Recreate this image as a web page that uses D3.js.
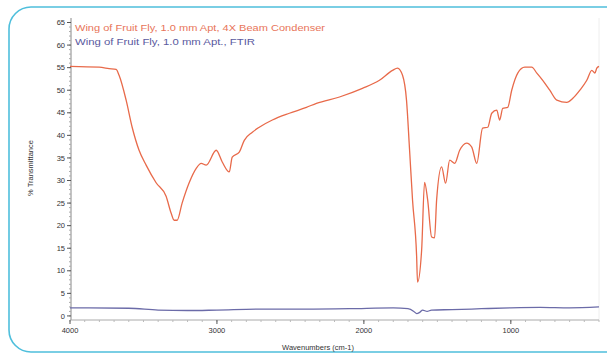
<!DOCTYPE html>
<html><head><meta charset="utf-8">
<script src="https://cdn.jsdelivr.net/npm/d3@7"></script>
<style>body{margin:0;background:#fff}svg{display:block}</style>
</head><body>
<svg id="c" width="607" height="354"></svg>
<script>
// Series: wavenumber (cm-1) and % transmittance
const redWave = [4000,3802,3734,3686,3666,3618,3577,3530,3482,3414,3346,3312,3291,3271,3237,3189,3141,3107,3073,3005,2964,2916,2896,2848,2814,2759,2712,2623,2507,2391,2323,2166,2010,1894,1805,1771,1737,1710,1689,1669,1641,1635,1607,1587,1566,1539,1519,1505,1471,1444,1416,1382,1348,1301,1266,1232,1192,1157,1130,1096,1076,1055,1021,994,953,905,858,823,783,735,687,619,578,530,483,449,428,415,400];
const redVals = [55.3,55.1,54.8,54.6,53.3,47.8,41.8,36.7,33.4,29.5,26.5,22.8,21.2,21.2,25.0,29.5,32.7,33.8,33.4,36.7,34.1,31.9,35.2,36.3,38.9,40.7,41.8,43.4,44.9,46.2,47.1,48.5,50.4,52.2,54.4,54.9,53.3,47.8,36.7,25.7,13.1,7.5,14.6,29.6,25.7,17.5,17.3,25.7,33.0,29.4,34.5,33.8,36.7,38.3,37.4,33.8,41.6,41.8,44.9,45.6,43.4,46.0,46.2,50.0,53.8,55.1,55.1,53.8,52.2,50.0,47.8,47.3,48.2,50.0,52.2,54.4,53.8,54.9,55.3];
const blueWave = [4000,3600,3400,3200,3000,2700,2400,2100,1800,1700,1660,1640,1620,1600,1570,1540,1400,1200,1000,800,600,400];
const blueVals = [1.8,1.7,1.3,1.2,1.3,1.5,1.5,1.6,1.8,1.6,1.0,0.5,0.8,1.3,1.0,1.3,1.4,1.6,1.8,1.9,1.8,2.0];
const xTicks = [4000,3000,2000,1000];
const yTicks = [0,5,10,15,20,25,30,35,40,45,50,55,60,65];
const legendLabels = ["Wing of Fruit Fly, 1.0 mm Apt, 4X Beam Condenser","Wing of Fruit Fly, 1.0 mm Apt., FTIR"];
const xTitle = "Wavenumbers (cm-1)";
const yTitle = "% Transmittance";

const svg = d3.select("#c");
const x = d3.scaleLinear().domain([4000,400]).range([70,599]);
const y = d3.scaleLinear().domain([-0.9,66]).range([320,18]);

// outer rounded frame
svg.append("rect").attr("x",9).attr("y",7).attr("width",640).attr("height",345).attr("rx",22)
  .attr("fill","none").attr("stroke","#4fbfdc").attr("stroke-width",1.6);

// right plot edge (faint)
svg.append("line").attr("x1",599).attr("x2",599).attr("y1",18).attr("y2",320).attr("stroke","#eee");

// Y axis
const gy = svg.append("g").attr("transform","translate(71,0)");
gy.append("line").attr("y1",y(66)).attr("y2",y(-0.9)).attr("stroke","#888");
gy.selectAll("line.minor").data(d3.range(0,66,1)).join("line").attr("class","minor")
  .attr("x1",-2).attr("x2",0).attr("y1",d=>y(d)).attr("y2",d=>y(d)).attr("stroke","#aaa");
gy.selectAll("line.major").data(yTicks).join("line").attr("class","major")
  .attr("x1",-4).attr("x2",0).attr("y1",d=>y(d)).attr("y2",d=>y(d)).attr("stroke","#555");
gy.selectAll("text").data(yTicks).join("text")
  .attr("x",-6).attr("y",d=>y(d)).attr("dy","0.35em").attr("text-anchor","end")
  .attr("font-family","Liberation Sans, Arial, sans-serif").attr("font-size",7.5).attr("fill","#333")
  .text(d=>d);

// X axis
const gx = svg.append("g").attr("transform","translate(0,320)");
gx.append("line").attr("x1",x(4000)).attr("x2",x(400)).attr("stroke","#aaa");
gx.selectAll("line.minor").data(d3.range(400,4001,100)).join("line").attr("class","minor")
  .attr("x1",d=>x(d)).attr("x2",d=>x(d)).attr("y1",0).attr("y2",2).attr("stroke","#bbb");
gx.selectAll("line.major").data(xTicks).join("line").attr("class","major")
  .attr("x1",d=>x(d)).attr("x2",d=>x(d)).attr("y1",0).attr("y2",4).attr("stroke","#555");
gx.selectAll("text").data(xTicks).join("text")
  .attr("x",d=>x(d)).attr("y",13).attr("text-anchor","middle")
  .attr("font-family","Liberation Sans, Arial, sans-serif").attr("font-size",7.5).attr("fill","#333")
  .text(d=>d);

svg.append("text").attr("x",318).attr("y",350).attr("text-anchor","middle")
  .attr("font-family","Liberation Sans, Arial, sans-serif").attr("font-size",7.5).attr("fill","#333").text(xTitle);
svg.append("text").attr("transform","translate(33,168) rotate(-90)").attr("text-anchor","middle")
  .attr("font-family","Liberation Sans, Arial, sans-serif").attr("font-size",7.5).attr("fill","#333").text(yTitle);

// lines
const line = d3.line().curve(d3.curveMonotoneX);
svg.append("path").attr("d", line(blueWave.map((w,i)=>[x(w),y(blueVals[i])])))
  .attr("fill","none").attr("stroke","#6b6ba8").attr("stroke-width",1.3);
svg.append("path").attr("d", line(redWave.map((w,i)=>[x(w),y(redVals[i])])))
  .attr("fill","none").attr("stroke","#e86a4a").attr("stroke-width",1.3);

// legend
const legColors = ["#e8755a","#5a5aa0"];
svg.selectAll("text.leg").data(legendLabels).join("text").attr("class","leg")
  .attr("x",75).attr("y",(d,i)=>31+i*14)
  .attr("textLength",(d,i)=>i===0?250:180).attr("lengthAdjust","spacingAndGlyphs")
  .attr("font-family","Liberation Sans, Arial, sans-serif").attr("font-size",9).attr("fill",(d,i)=>legColors[i])
  .text(d=>d);
</script>
</body></html>
